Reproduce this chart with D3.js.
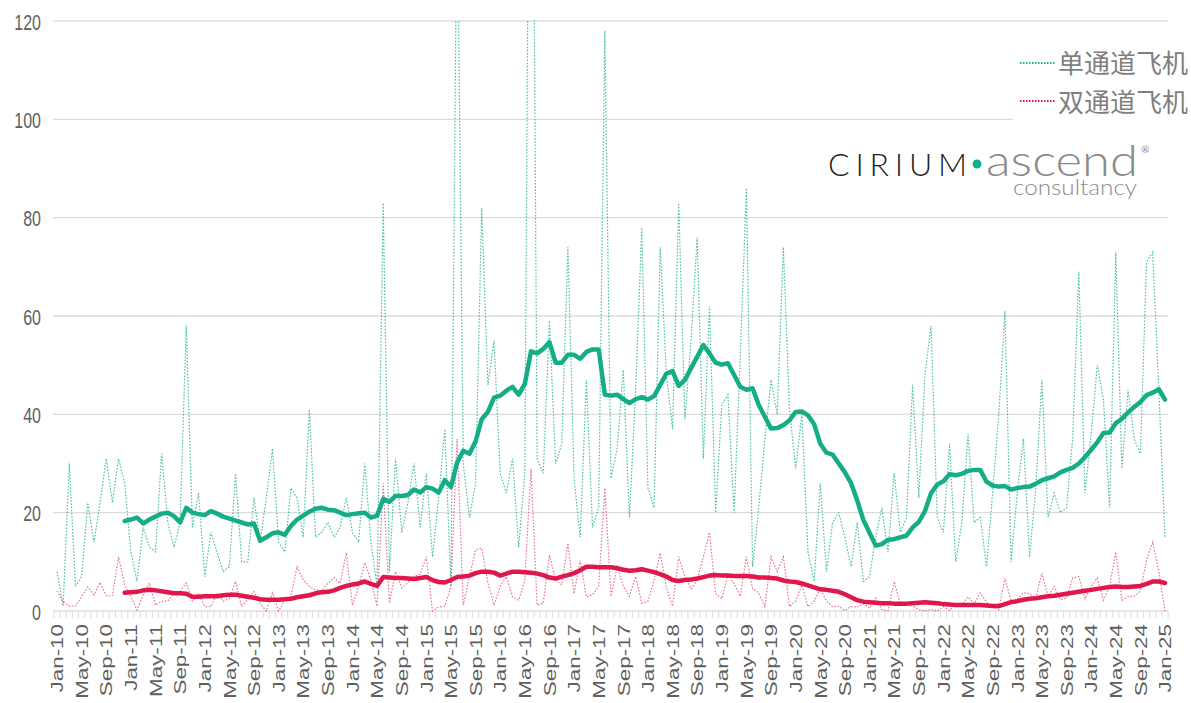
<!DOCTYPE html>
<html>
<head>
<meta charset="utf-8">
<script src="https://cdn.jsdelivr.net/npm/d3@7"></script>
<style>
    body { margin: 0; background: #fff; }
</style>
</head>
<body>
<svg id="chart" width="1191" height="703"></svg>
<script>
// monthly categories Jan-10 .. Jan-25
const monthNames = ["Jan", "Feb", "Mar", "Apr", "May", "Jun", "Jul", "Aug", "Sep", "Oct", "Nov", "Dec"]
const months = []
for (let i = 0; i < 181; i++) {
    months.push(monthNames[i % 12] + "-" + (10 + Math.floor(i / 12)))
}
const labelMonths = months.filter((d, i) => i % 4 === 0)
const yTicks = [0, 20, 40, 60, 80, 100, 120]

const seriesNames = ["单通道飞机", "双通道飞机"]

// monthly values (dotted)
const singleAisle = [
    8, 1, 30, 5, 7, 22, 14, 22, 31, 22, 31, 26,
    12, 6, 17, 13, 12, 32, 18, 13, 18, 58, 17, 24,
    7, 16, 12, 8, 9, 28, 10, 10, 23, 14, 23, 33,
    14, 12, 25, 23, 15, 41, 15, 16, 18, 15, 17, 23,
    16, 14, 30, 14, 5, 83, 8, 31, 16, 22, 30, 17,
    28, 11, 23, 37, 5, 150, 30, 19, 26, 82, 46, 55,
    28, 24, 31, 13, 28, 228, 31, 28, 59, 30, 34, 74,
    27, 15, 47, 17, 21, 118, 27, 33, 49, 19, 45, 78,
    25, 21, 74, 48, 37, 83, 39, 55, 76, 31, 62, 20,
    42, 44, 20, 52, 86, 9, 21, 35, 47, 40, 74, 41,
    29, 40, 12, 6, 26, 8, 18, 20, 15, 9, 18, 6,
    7, 15, 21, 12, 28, 16, 19, 46, 23, 48, 58, 19,
    16, 34, 10, 18, 36, 18, 19, 9, 24, 40, 61, 10,
    24, 35, 11, 25, 47, 19, 24, 20, 21, 35, 69, 24,
    36, 50, 43, 21, 73, 29, 45, 35, 32, 71, 73, 45, 15
]
const twinAisle = [
    4.1, 1.9, 1, 1, 2.9, 4.9, 3.3, 5.8, 3.1, 3.1, 11, 5.3,
    2.9, 0.2, 3.3, 5.7, 1.2, 2, 2, 3.7, 4, 5.7, 2, 3.5,
    0.9, 0.9, 3.5, 2, 2.5, 6, 0.9, 2.4, 4, 1.5, 0, 3.7,
    0, 2.2, 3, 9, 6.3, 5, 4.3, 4.1, 5.6, 6.8, 5.6, 11.8,
    1.2, 4.9, 9.8, 6.3, 1, 26, 1.6, 8, 4.7, 5.7, 7, 7.5,
    11, 0, 0.8, 1, 5, 35, 1.2, 7, 12.4, 12.8, 5.7, 1.2,
    5, 7, 2.9, 2.2, 6.3, 29, 1.2, 1.6, 11.4, 6.3, 5.3, 13.8,
    3.5, 10.3, 2.9, 3.3, 5, 25, 3, 9, 5, 3, 7, 1.6,
    2, 6.3, 11.8, 4.7, 1, 11, 7, 4.5, 6.3, 11, 16, 3.5,
    2.5, 7.3, 5.6, 3, 11, 4.5, 3.7, 0.9, 11, 8, 11, 0.9,
    2, 5.3, 0.9, 2, 4.5, 2, 0.9, 1, 0.1, 0.9, 0.8, 1.5,
    0.6, 2.6, 0.3, 0, 6, 1.5, 1.2, 1, 0.3, 0, 0.3, 0,
    0.9, 0.1, 1.5, 1.2, 2.9, 1.5, 3.7, 1.8, 0.9, 0.3, 6.7, 2,
    2.3, 3.7, 3.5, 2.6, 7.7, 3, 5, 2.3, 2.6, 6.7, 7, 2.5,
    5, 6.7, 2.2, 5, 12, 2.2, 2.9, 3, 4, 10.4, 14, 8, 0
]

// 12-month averages (thick), from Dec-10
const avgStart = "Dec-10"
const singleAvg = [
    18.3, 18.6, 19.0, 17.8, 18.6, 19.2, 19.8, 20.0, 19.3, 18.0, 21.0, 20.0,
    19.7, 19.5, 20.3, 19.8, 19.2, 18.8, 18.4, 18.0, 17.6, 17.8, 14.3, 15.0,
    15.8, 16.0, 15.5, 17.3, 18.6, 19.4, 20.2, 20.8, 21.0, 20.6, 20.5, 20.0,
    19.5, 19.7, 19.9, 20.0, 19.0, 19.4, 22.8, 22.2, 23.4, 23.4, 23.6, 24.7,
    24.1, 25.2, 24.9, 24.1, 26.6, 25.2, 30.2, 32.6, 32.0, 34.5, 39.0, 40.5,
    43.4, 43.8, 44.8, 45.6, 44.0, 46.2, 52.8, 52.4, 53.3, 54.7, 50.5, 50.5,
    52.1, 52.1, 51.3, 52.7, 53.2, 53.2, 44.0, 43.8, 44.0, 43.1, 42.3, 43.1,
    43.5, 43.0, 43.7, 46.0, 48.3, 48.8, 45.8, 47.0, 49.4, 51.7, 54.1, 52.4,
    50.5, 50.1, 50.4, 48.0, 45.6, 45.0, 45.3, 41.9, 39.5, 37.1, 37.2, 37.8,
    38.8, 40.5, 40.6, 39.8, 38.0, 34.0, 32.2, 31.8, 30.0, 28.2, 26.0, 22.5,
    18.5, 15.9, 13.3, 13.6, 14.5, 14.6, 15.0, 15.3, 17.0, 18.1, 20.3, 24.0,
    25.7, 26.4, 27.8, 27.6, 27.9, 28.5, 28.7, 28.7, 26.3, 25.5, 25.3, 25.4,
    24.7, 25.0, 25.2, 25.3, 25.9, 26.6, 27.0, 27.4, 28.2, 28.7, 29.1, 30.0,
    31.3, 32.8, 34.3, 36.2, 36.3, 38.2, 39.1, 40.4, 41.5, 42.5, 43.9, 44.4,
    45.1, 43.0
]
const twinAvg = [
    3.7, 3.8, 3.9, 4.2, 4.3, 4.2, 4.0, 3.8, 3.6, 3.6, 3.5, 2.9,
    2.9, 3.0, 3.0, 3.0, 3.2, 3.3, 3.3, 3.1, 2.9, 2.7, 2.4, 2.3,
    2.3, 2.3, 2.4, 2.5, 2.8, 3.0, 3.2, 3.6, 3.8, 3.9, 4.2, 4.7,
    5.1, 5.4, 5.6, 6.0, 5.5, 5.1, 6.9, 6.8, 6.7, 6.7, 6.6, 6.5,
    6.7, 6.9, 6.3, 5.9, 5.8, 6.3, 6.9, 7.0, 7.2, 7.7, 8.0, 8.0,
    7.8, 7.2, 7.6, 8.0, 8.0, 7.9, 7.8, 7.6, 7.3, 6.8, 6.6, 7.0,
    7.3, 7.7, 8.3, 9.0, 9.0, 8.9, 8.9, 8.9, 8.7, 8.4, 8.2, 8.3,
    8.5, 8.2, 7.9, 7.5, 7.0, 6.3, 6.1, 6.3, 6.4, 6.6, 6.9, 7.2,
    7.3, 7.2, 7.2, 7.1, 7.1, 7.1, 7.0, 6.8, 6.8, 6.7, 6.6, 6.2,
    6.0, 5.9, 5.6, 5.2, 4.8, 4.4, 4.3, 4.1, 3.9, 3.4, 2.8, 2.2,
    1.9, 1.8, 1.7, 1.6, 1.6, 1.5, 1.5, 1.5, 1.6, 1.7, 1.8, 1.7,
    1.6, 1.4, 1.3, 1.2, 1.2, 1.2, 1.2, 1.2, 1.1, 1.0, 1.0, 1.4,
    1.8, 2.0, 2.3, 2.5, 2.6, 2.8, 3.0, 3.1, 3.3, 3.5, 3.7, 3.9,
    4.1, 4.3, 4.5, 4.7, 4.9, 5.0, 4.9, 4.9, 5.0, 5.1, 5.5, 6.0,
    6.0, 5.7
]

const green = "#14ad86"
const red = "#e0174d"
const grid = "#dcdcdc"
const labelColor = "#5f5f5f"

let svg = d3.select("#chart")

const x = d3.scalePoint().domain(months).range([57, 1165])
const y = d3.scaleLinear().domain([0, 120]).range([611, 21])
const step = x.step()

// gridlines
svg.append("g")
    .selectAll("line")
    .data(yTicks)
    .join("line")
    .attr("x1", 53)
    .attr("x2", 1168)
    .attr("y1", d => y(d))
    .attr("y2", d => y(d))
    .attr("stroke", grid)
    .attr("stroke-width", 1.4)

// minor month ticks under the baseline
svg.append("g")
    .selectAll("line")
    .data(months.concat(["end"]))
    .join("line")
    .attr("x1", (d, i) => x(months[0]) - step / 2 + i * step)
    .attr("x2", (d, i) => x(months[0]) - step / 2 + i * step)
    .attr("y1", y(0))
    .attr("y2", y(0) + 7)
    .attr("stroke", grid)
    .attr("stroke-width", 1)

// y axis labels
let yAxis = svg.append("g")
    .attr("transform", "translate(50,0)")
    .call(d3.axisLeft(y).tickValues(yTicks).tickSize(0).tickPadding(9))
yAxis.select(".domain").remove()
yAxis.selectAll("text")
    .attr("fill", labelColor)
    .attr("font-family", "'Liberation Sans', Arial, sans-serif")
    .attr("font-size", 16)
    .attr("dy", null)
    .attr("dominant-baseline", "central")
    .attr("transform", "scale(1,1.4)")

// x axis labels
let xAxis = svg.append("g")
    .attr("transform", `translate(0,${y(0)})`)
    .call(d3.axisBottom(x).tickValues(labelMonths).tickSize(0))
xAxis.select(".domain").remove()
xAxis.selectAll("text")
    .attr("fill", labelColor)
    .attr("font-family", "'Liberation Sans', Arial, sans-serif")
    .attr("font-size", 16)
    .attr("x", 0)
    .attr("y", 0)
    .attr("dy", null)
    .attr("text-anchor", "end")
    .attr("dominant-baseline", "central")
    .attr("transform", "translate(0,13) rotate(-90) scale(1.4,1)")

// clip so the tall spikes stop at the top of the plot
svg.append("clipPath").attr("id", "plotClip")
    .append("rect")
    .attr("x", 40).attr("y", y(120) - 1)
    .attr("width", 1140).attr("height", y(0) - y(120) + 10)

let plot = svg.append("g").attr("clip-path", "url(#plotClip)")

const monthly = d3.line()
    .x((d, i) => x(months[i]))
    .y(d => y(d))

const s0 = months.indexOf(avgStart)
const avg = d3.line()
    .x((d, i) => x(months[i + s0]))
    .y(d => y(d))

plot.append("path")
    .attr("d", monthly(singleAisle))
    .attr("fill", "none")
    .attr("stroke", green)
    .attr("stroke-width", 1.2)
    .attr("stroke-dasharray", "1.6,1.6")
    .attr("opacity", 0.75)

plot.append("path")
    .attr("d", monthly(twinAisle))
    .attr("fill", "none")
    .attr("stroke", red)
    .attr("stroke-width", 1.2)
    .attr("stroke-dasharray", "1.6,1.6")
    .attr("opacity", 0.6)

plot.append("path")
    .attr("d", avg(singleAvg))
    .attr("fill", "none")
    .attr("stroke", green)
    .attr("stroke-width", 4.5)
    .attr("stroke-linejoin", "round")
    .attr("stroke-linecap", "round")

plot.append("path")
    .attr("d", avg(twinAvg))
    .attr("fill", "none")
    .attr("stroke", red)
    .attr("stroke-width", 4.5)
    .attr("stroke-linejoin", "round")
    .attr("stroke-linecap", "round")

// legend
let legend = svg.append("g")
legend.append("rect")
    .attr("x", 1013).attr("y", 34)
    .attr("width", 178).attr("height", 90)
    .attr("fill", "#fff")

legend.selectAll("line")
    .data(seriesNames)
    .join("line")
    .attr("x1", 1020).attr("x2", 1055)
    .attr("y1", (d, i) => 63 + i * 38)
    .attr("y2", (d, i) => 63 + i * 38)
    .attr("stroke", (d, i) => i === 0 ? green : red)
    .attr("stroke-width", 2)
    .attr("stroke-dasharray", "1.5,1.5")

legend.selectAll("text")
    .data(seriesNames)
    .join("text")
    .attr("x", 1058)
    .attr("y", (d, i) => 61 + i * 39)
    .attr("dominant-baseline", "central")
    .attr("font-family", "'Noto Sans CJK SC', sans-serif")
    .attr("font-size", 26)
    .attr("fill", "#7f7f7f")
    .text(d => d)

// logo
let logo = svg.append("g")
logo.append("text")
    .attr("x", 828).attr("y", 176)
    .attr("font-family", "Lato, 'Open Sans', sans-serif")
    .attr("font-weight", 300)
    .attr("font-size", 32)
    .attr("fill", "#231f20")
    .attr("textLength", 139)
    .attr("lengthAdjust", "spacing")
    .text("CIRIUM")
logo.append("circle")
    .attr("cx", 977).attr("cy", 164).attr("r", 4.5)
    .attr("fill", "#12b08f")
logo.append("text")
    .attr("x", 986).attr("y", 176)
    .attr("font-family", "Lato, 'Open Sans', sans-serif")
    .attr("font-weight", 300)
    .attr("font-size", 44)
    .attr("fill", "#8a8a8a")
    .attr("textLength", 152)
    .attr("lengthAdjust", "spacingAndGlyphs")
    .text("ascend")
logo.append("text")
    .attr("x", 1141).attr("y", 153)
    .attr("font-family", "Lato, sans-serif")
    .attr("font-size", 10)
    .attr("fill", "#8a8a8a")
    .text("®")
logo.append("text")
    .attr("x", 1013).attr("y", 195)
    .attr("font-family", "Lato, 'Open Sans', sans-serif")
    .attr("font-weight", 300)
    .attr("font-size", 22)
    .attr("fill", "#8a8a8a")
    .attr("textLength", 124)
    .attr("lengthAdjust", "spacingAndGlyphs")
    .text("consultancy")
</script>
</body>
</html>
